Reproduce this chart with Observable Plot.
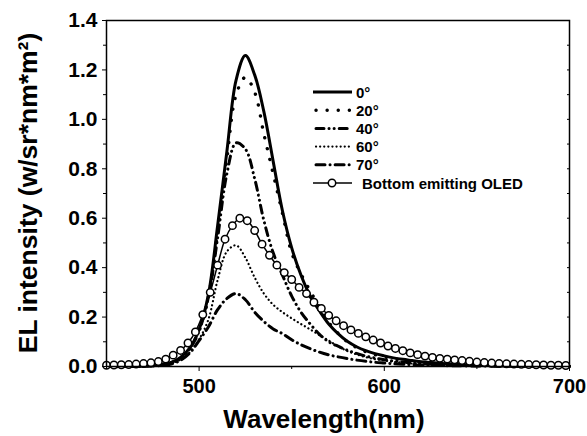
<!DOCTYPE html>
<html><head><meta charset="utf-8">
<script src="https://cdn.jsdelivr.net/npm/d3@7"></script>
<script src="https://cdn.jsdelivr.net/npm/@observablehq/plot@0.6"></script>
<style>body{margin:0;background:#fff}</style>
</head><body><div id="chart"></div>
<script>
// Wavelength grid (nm) for the angle-resolved spectra
const wavelengths = [450,455,460,465,470,475,480,485,490,495,500,505,510,515,520,525,530,535,540,545,550,555,560,565,570,575,580,585,590,595,600,605,610,615,620,625,630,635,640,645,650,655,660,665,670,675,680,685,690,695,700];
const angle0 = [0,0,0,0.001,0.002,0.004,0.008,0.017,0.037,0.075, 0.15,0.29,0.57,0.87,1.16,1.258,1.18,1.03,0.83,0.63, 0.48,0.37,0.285,0.225,0.172,0.133,0.102,0.08,0.064,0.052, 0.043,0.035,0.029,0.024,0.019,0.016,0.013,0.011,0.009,0.007, 0.006,0.005,0.004,0.003,0.003,0.002,0.002,0.002,0.001,0.001, 0.001];
const angle20 = [0,0,0,0.001,0.002,0.004,0.008,0.016,0.035,0.072, 0.145,0.28,0.54,0.84,1.10,1.17,1.11,0.94,0.78,0.62, 0.46,0.375,0.305,0.24,0.178,0.135,0.1,0.077,0.06,0.048, 0.039,0.032,0.026,0.021,0.017,0.014,0.011,0.009,0.007,0.006, 0.005,0.004,0.003,0.003,0.002,0.002,0.002,0.001,0.001,0.001, 0.001];
const angle40 = [0,0,0,0.001,0.002,0.004,0.008,0.016,0.035,0.072, 0.145,0.28,0.52,0.78,0.905,0.88,0.76,0.59,0.46,0.37, 0.285,0.22,0.172,0.13,0.10,0.082,0.066,0.053,0.042,0.034, 0.027,0.022,0.018,0.014,0.011,0.009,0.007,0.006,0.005,0.004, 0.003,0.003,0.002,0.002,0.001,0.001,0.001,0.001,0.001,0.001, 0.001];
const angle60 = [0,0,0,0.001,0.002,0.003,0.006,0.013,0.028,0.058, 0.11,0.19,0.35,0.465,0.49,0.44,0.36,0.295,0.25,0.22, 0.195,0.172,0.15,0.127,0.105,0.082,0.063,0.049,0.038,0.03, 0.024,0.019,0.015,0.012,0.009,0.007,0.006,0.005,0.004,0.003, 0.003,0.002,0.002,0.002,0.001,0.001,0.001,0.001,0.001,0.001, 0.001];
const angle70 = [0,0,0,0,0.001,0.002,0.004,0.01,0.025,0.055, 0.105,0.16,0.23,0.275,0.295,0.27,0.22,0.182,0.152,0.133, 0.108,0.088,0.072,0.058,0.047,0.039,0.032,0.026,0.021,0.017, 0.014,0.011,0.009,0.007,0.006,0.005,0.004,0.003,0.003,0.002, 0.002,0.002,0.001,0.001,0.001,0.001,0.001,0.001,0.001,0.001, 0.001];

// Bottom emitting OLED (open circles)
const bottomWavelengths = [450,454,458,462,466,470,474,478,482,486,490,494,498,502,506,510,514,518,522,526,530,534,538,542,546,550,554,558,562,566,570,574,578,582,586,590,594,598,602,606,610,614,618,622,626,630,634,638,642,646,650,654,658,662,666,670,674,678,682,686,690,694,698];
const bottomOLED = [0.005,0.006,0.007,0.008,0.010,0.012,0.015,0.020,0.030,0.046, 0.065,0.095,0.14,0.21,0.30,0.41,0.515,0.57,0.60,0.59, 0.55,0.495,0.45,0.41,0.38,0.352,0.32,0.295,0.26,0.235, 0.207,0.185,0.165,0.148,0.134,0.12,0.107,0.095,0.083,0.073, 0.064,0.055,0.048,0.042,0.037,0.033,0.030,0.027,0.024,0.021, 0.018,0.016,0.014,0.012,0.011,0.010,0.009,0.008,0.007,0.006, 0.005,0.005,0.004];

const seriesNames = ["0°","20°","40°","60°","70°","Bottom emitting OLED"];
const xTicks = [500,600,700];
const xMinorTicks = [450,550,650];
const yTicks = [0,0.2,0.4,0.6,0.8,1.0,1.2,1.4];
const yMinorTicks = [0.1,0.3,0.5,0.7,0.9,1.1,1.3];
const xTitle = "Wavelength(nm)";
const yTitle = "EL intensity (w/sr*nm*m²)";

const angleSeries = [angle0, angle20, angle40, angle60, angle70];
const lineStyles = [
  {strokeWidth: 3},
  {strokeWidth: 3.4, strokeDasharray: "0.1 11", strokeLinecap: "round"},
  {strokeWidth: 3, strokeDasharray: "8 5 0.1 5 0.1 5", strokeLinecap: "round"},
  {strokeWidth: 2.2, strokeDasharray: "0.1 4", strokeLinecap: "round"},
  {strokeWidth: 3, strokeDasharray: "9 5 0.1 5", strokeLinecap: "round"}
];

const tables = angleSeries.map(vals => wavelengths.map((w, i) => ({wl: w, v: vals[i]})));
const bottomTable = bottomWavelengths.map((w, i) => ({wl: w, v: bottomOLED[i]}));

const font = "'Liberation Sans', Arial, sans-serif";

const plot = Plot.plot({
  width: 587, height: 436,
  marginLeft: 106, marginRight: 18, marginTop: 20, marginBottom: 70,
  x: {domain: [450, 700]},
  y: {domain: [0, 1.4]},
  style: {fontFamily: font, fontWeight: "bold", background: "white", color: "black", overflow: "visible"},
  marks: [
    ...tables.map((t, i) => Plot.line(t, {x: "wl", y: "v", stroke: "black", curve: "catmull-rom", ...lineStyles[i]})),
    Plot.line(bottomTable, {x: "wl", y: "v", stroke: "black", strokeWidth: 1.5, curve: "catmull-rom"}),
    Plot.dot(bottomTable, {x: "wl", y: "v", r: 3.7, fill: "white", stroke: "black", strokeWidth: 1.5}),
    Plot.frame({stroke: "black", strokeWidth: 1.5}),
    Plot.axisX(xTicks, {tickSize: 5, tickPadding: 7, fontSize: 20, label: null, tickFormat: d => String(d)}),
    Plot.axisX(xMinorTicks, {tickSize: 3, label: null, tickFormat: () => ""}),
    Plot.axisY(yTicks, {tickSize: 4, tickPadding: 5, fontSize: 21, label: null, tickFormat: d3.format(".1f")}),
    Plot.axisY(yMinorTicks, {tickSize: 3, label: null, tickFormat: () => ""}),
    Plot.axisY([...yTicks, ...yMinorTicks], {anchor: "right", tickSize: -3, label: null, tickFormat: () => ""})
  ]
});

const svg = d3.select(plot);
svg.append("text")
  .attr("transform", "translate(37,193) rotate(-90)")
  .attr("text-anchor", "middle")
  .style("font-size", "26.5px").style("font-weight", "bold").style("font-family", font)
  .text(yTitle);
svg.append("text")
  .attr("x", 324).attr("y", 428)
  .attr("text-anchor", "middle")
  .style("font-size", "26px").style("font-weight", "bold").style("font-family", font)
  .text(xTitle);

// Legend
const legend = svg.append("g").attr("text-anchor", "start").style("font-family", font).style("font-weight", "bold").style("font-size", "15px");
seriesNames.forEach((name, i) => {
  const y = 92 + i * 18.2;
  const st = lineStyles[i] || {strokeWidth: 1.5};
  const ln = legend.append("line").attr("x1", 313).attr("x2", 352).attr("y1", y).attr("y2", y)
    .attr("stroke", "black").attr("stroke-width", st.strokeWidth);
  if (st.strokeDasharray) ln.attr("stroke-dasharray", st.strokeDasharray).attr("stroke-dashoffset", -3);
  if (st.strokeLinecap) ln.attr("stroke-linecap", st.strokeLinecap);
  if (i === 5) {
    legend.append("circle").attr("cx", 332).attr("cy", y).attr("r", 3.7).attr("fill", "white").attr("stroke", "black").attr("stroke-width", 1.5);
  }
  legend.append("text").attr("text-anchor", "start").attr("x", i === 5 ? 362 : 356).attr("y", y + 5.5).text(name);
});

document.getElementById("chart").appendChild(plot);
</script>
</body></html>
